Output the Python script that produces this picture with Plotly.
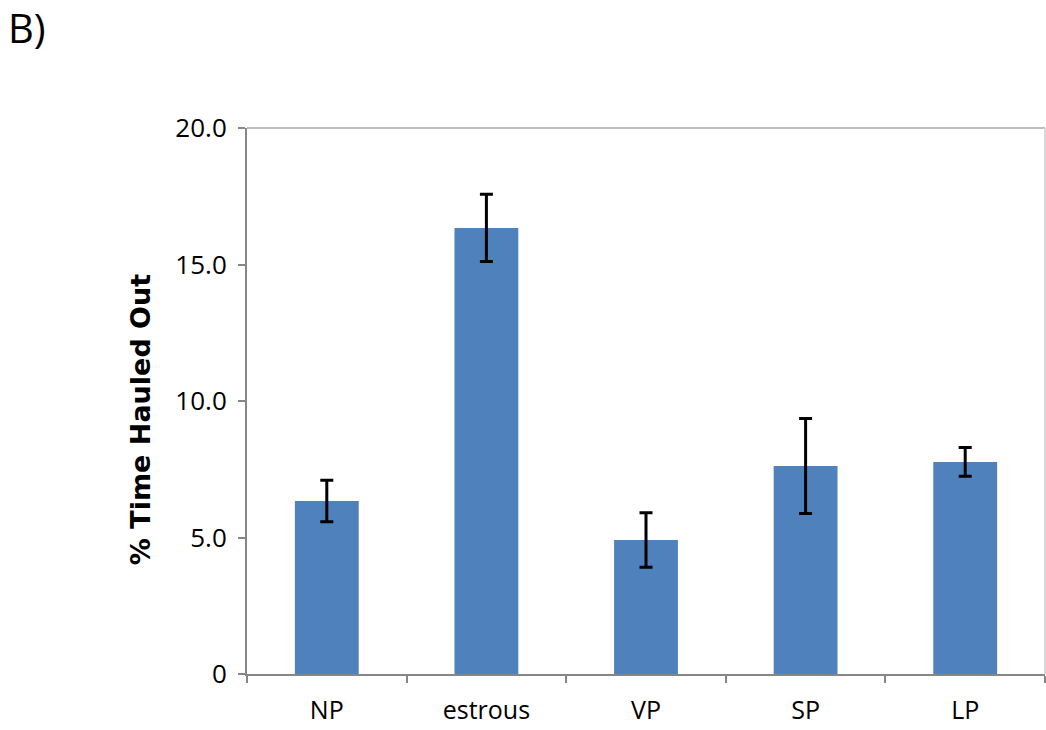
import plotly.graph_objects as go

categories = ["NP", "estrous", "VP", "SP", "LP"]
values = [6.34, 16.34, 4.91, 7.62, 7.77]
errors = [0.76, 1.23, 1.0, 1.74, 0.53]
y_ticks = [0, 5, 10, 15, 20]
y_tick_labels = ["0", "5.0", "10.0", "15.0", "20.0"]

fig = go.Figure()
fig.add_trace(go.Bar(
    x=categories, y=values, width=0.4,
    marker=dict(color="#4F81BD", line=dict(width=0)),
    error_y=dict(type="data", array=errors, visible=True,
                 color="black", thickness=3, width=6.5),
))

axis_grey = "#868686"
fig.update_layout(
    width=1046, height=730,
    margin=dict(l=247, r=1, t=128, b=56),
    paper_bgcolor="white", plot_bgcolor="white",
    showlegend=False,
    font=dict(family="Open Sans", color="black"),
    xaxis=dict(
        type="category", showline=True, linecolor=axis_grey, linewidth=2,
        ticks="outside", tickson="boundaries", ticklen=7, tickwidth=2, tickcolor=axis_grey,
        tickfont=dict(size=25, family="Open Sans", color="black"),
        ticklabelstandoff=13, automargin=False,
        showgrid=False, zeroline=False,
        range=[-0.5, 4.5],
    ),
    yaxis=dict(
        range=[0, 20], tickvals=y_ticks, ticktext=y_tick_labels,
        showline=True, linecolor=axis_grey, linewidth=2,
        ticks="outside", ticklen=7, tickwidth=2, tickcolor=axis_grey,
        tickfont=dict(size=26, family="Open Sans", color="black"),
        ticklabelstandoff=6, automargin=False,
        showgrid=False, zeroline=False,
    ),
    shapes=[
        dict(type="line", xref="paper", yref="paper", x0=0, x1=1, y0=1, y1=1,
             line=dict(color="#BFBFBF", width=2)),
        dict(type="line", xref="paper", yref="paper", x0=1, x1=1, y0=0, y1=1,
             line=dict(color="#D9D9D9", width=2)),
    ],
    annotations=[
        dict(text="<b>% Time Hauled Out</b>", xref="paper", yref="paper",
             x=-0.134, y=0.465, textangle=-90, showarrow=False,
             font=dict(size=27, family="DejaVu Sans", color="black"),
             xanchor="center", yanchor="middle"),
        dict(text="B)", xref="paper", yref="paper",
             x=(6 - 247) / 798, y=(730 - 56 - 28) / 546, showarrow=False,
             font=dict(size=40, family="Open Sans", color="black"),
             xanchor="left", yanchor="middle"),
    ],
)
fig.write_html("out.html")
